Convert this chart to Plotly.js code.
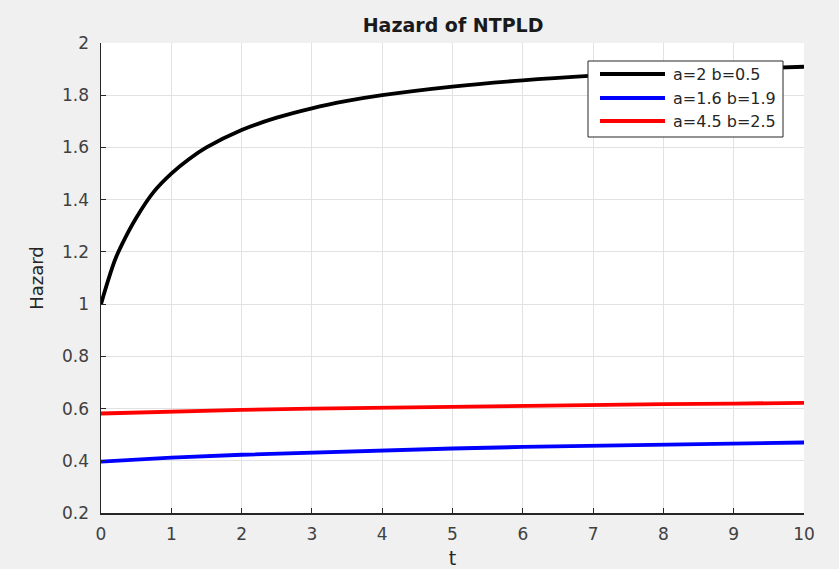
<!DOCTYPE html>
<html>
<head>
<meta charset="utf-8">
<script src="https://cdn.plot.ly/plotly-3.0.1.min.js"></script>
<style>html,body{margin:0;padding:0;background:#f0f0f0;}#chart{width:839px;height:569px;}</style>
</head>
<body>
<div id="chart"></div>
<script>
// Values
var tBlack = [0, 0.1, 0.2, 0.3, 0.5, 0.75, 1, 1.25, 1.5, 2, 2.5, 3, 3.5, 4, 5, 6, 7, 8, 9, 10];
var hBlack = [1, 1.09, 1.17, 1.23, 1.33, 1.43, 1.5, 1.555, 1.6, 1.667, 1.714, 1.75, 1.778, 1.8, 1.833, 1.857, 1.875, 1.889, 1.9, 1.909];
var tBlue = [0, 1, 2, 3, 4, 5, 6, 7, 8, 9, 10];
var hBlue = [0.397, 0.412, 0.423, 0.432, 0.440, 0.447, 0.453, 0.458, 0.463, 0.467, 0.470];
var tRed = [0, 1, 2, 3, 4, 5, 6, 7, 8, 9, 10];
var hRed = [0.581, 0.589, 0.595, 0.600, 0.604, 0.608, 0.611, 0.614, 0.617, 0.619, 0.622];
var names = ["a=2 b=0.5", "a=1.6 b=1.9", "a=4.5 b=2.5"];
var colors = ["#000000", "#0000ff", "#ff0000"];
var xTicks = [0,1,2,3,4,5,6,7,8,9,10];
var yTicks = [0.2,0.4,0.6,0.8,1,1.2,1.4,1.6,1.8,2];

var traces = [
  {x: tBlack, y: hBlack, name: names[0], mode: "lines", line: {color: colors[0], width: 3.8, shape: "spline"}},
  {x: tBlue, y: hBlue, name: names[1], mode: "lines", line: {color: colors[1], width: 3.8}},
  {x: tRed, y: hRed, name: names[2], mode: "lines", line: {color: colors[2], width: 3.8}}
];

// Plot area in pixels: x 101..804, y 43..513 -> helper to place legend box in paper coords
var L = 101, R = 804, T = 43, B = 513;
function px(x) { return (x - L) / (R - L); }
function py(y) { return (B - y) / (B - T); }

var shapes = [{type: "rect", xref: "paper", yref: "paper", x0: px(588), x1: px(783), y0: py(137), y1: py(61),
               fillcolor: "#ffffff", line: {color: "#262626", width: 1}, layer: "above"}];
var annotations = [];
var rowY = [74, 98, 121];
for (var i = 0; i < names.length; i++) {
  shapes.push({type: "line", xref: "paper", yref: "paper", x0: px(600), x1: px(665), y0: py(rowY[i]), y1: py(rowY[i]),
               line: {color: colors[i], width: 4}, layer: "above"});
  annotations.push({xref: "paper", yref: "paper", x: px(671), y: py(rowY[i]), xanchor: "left", yanchor: "middle",
               text: names[i], showarrow: false, font: {family: "DejaVu Sans", size: 16, color: "#262626"}});
}

var font = "DejaVu Sans, sans-serif";
var layout = {
  width: 839, height: 569,
  paper_bgcolor: "#f0f0f0", plot_bgcolor: "#ffffff",
  margin: {l: L, r: 839 - R, t: T, b: 569 - B},
  font: {family: font, size: 17, color: "#404040"},
  title: {text: "<b>Hazard of NTPLD</b>", x: 0.54, xanchor: "center", y: 0.955, yanchor: "middle",
          font: {family: font, size: 19, color: "#1a1a1a"}},
  xaxis: {
    range: [0, 10], tickvals: xTicks, ticktext: xTicks.map(String),
    showgrid: true, gridcolor: "#e2e2e2", gridwidth: 1,
    showline: true, linecolor: "#262626", linewidth: 1.5,
    ticks: "inside", ticklen: 5, tickcolor: "#262626", ticklabelstandoff: 5,
    zeroline: false, mirror: false,
    title: {text: "t", font: {family: font, size: 19, color: "#262626"}, standoff: 14}
  },
  yaxis: {
    range: [0.2, 2], tickvals: yTicks, ticktext: yTicks.map(String),
    showgrid: true, gridcolor: "#e2e2e2", gridwidth: 1,
    showline: true, linecolor: "#262626", linewidth: 1.5,
    ticks: "inside", ticklen: 5, tickcolor: "#262626", ticklabelstandoff: 7,
    zeroline: false, mirror: false,
    title: {text: "Hazard", font: {family: font, size: 18, color: "#262626"}, standoff: 14}
  },
  showlegend: false,
  shapes: shapes,
  annotations: annotations
};
Plotly.newPlot("chart", traces, layout, {displayModeBar: false, staticPlot: true});
</script>
</body>
</html>
